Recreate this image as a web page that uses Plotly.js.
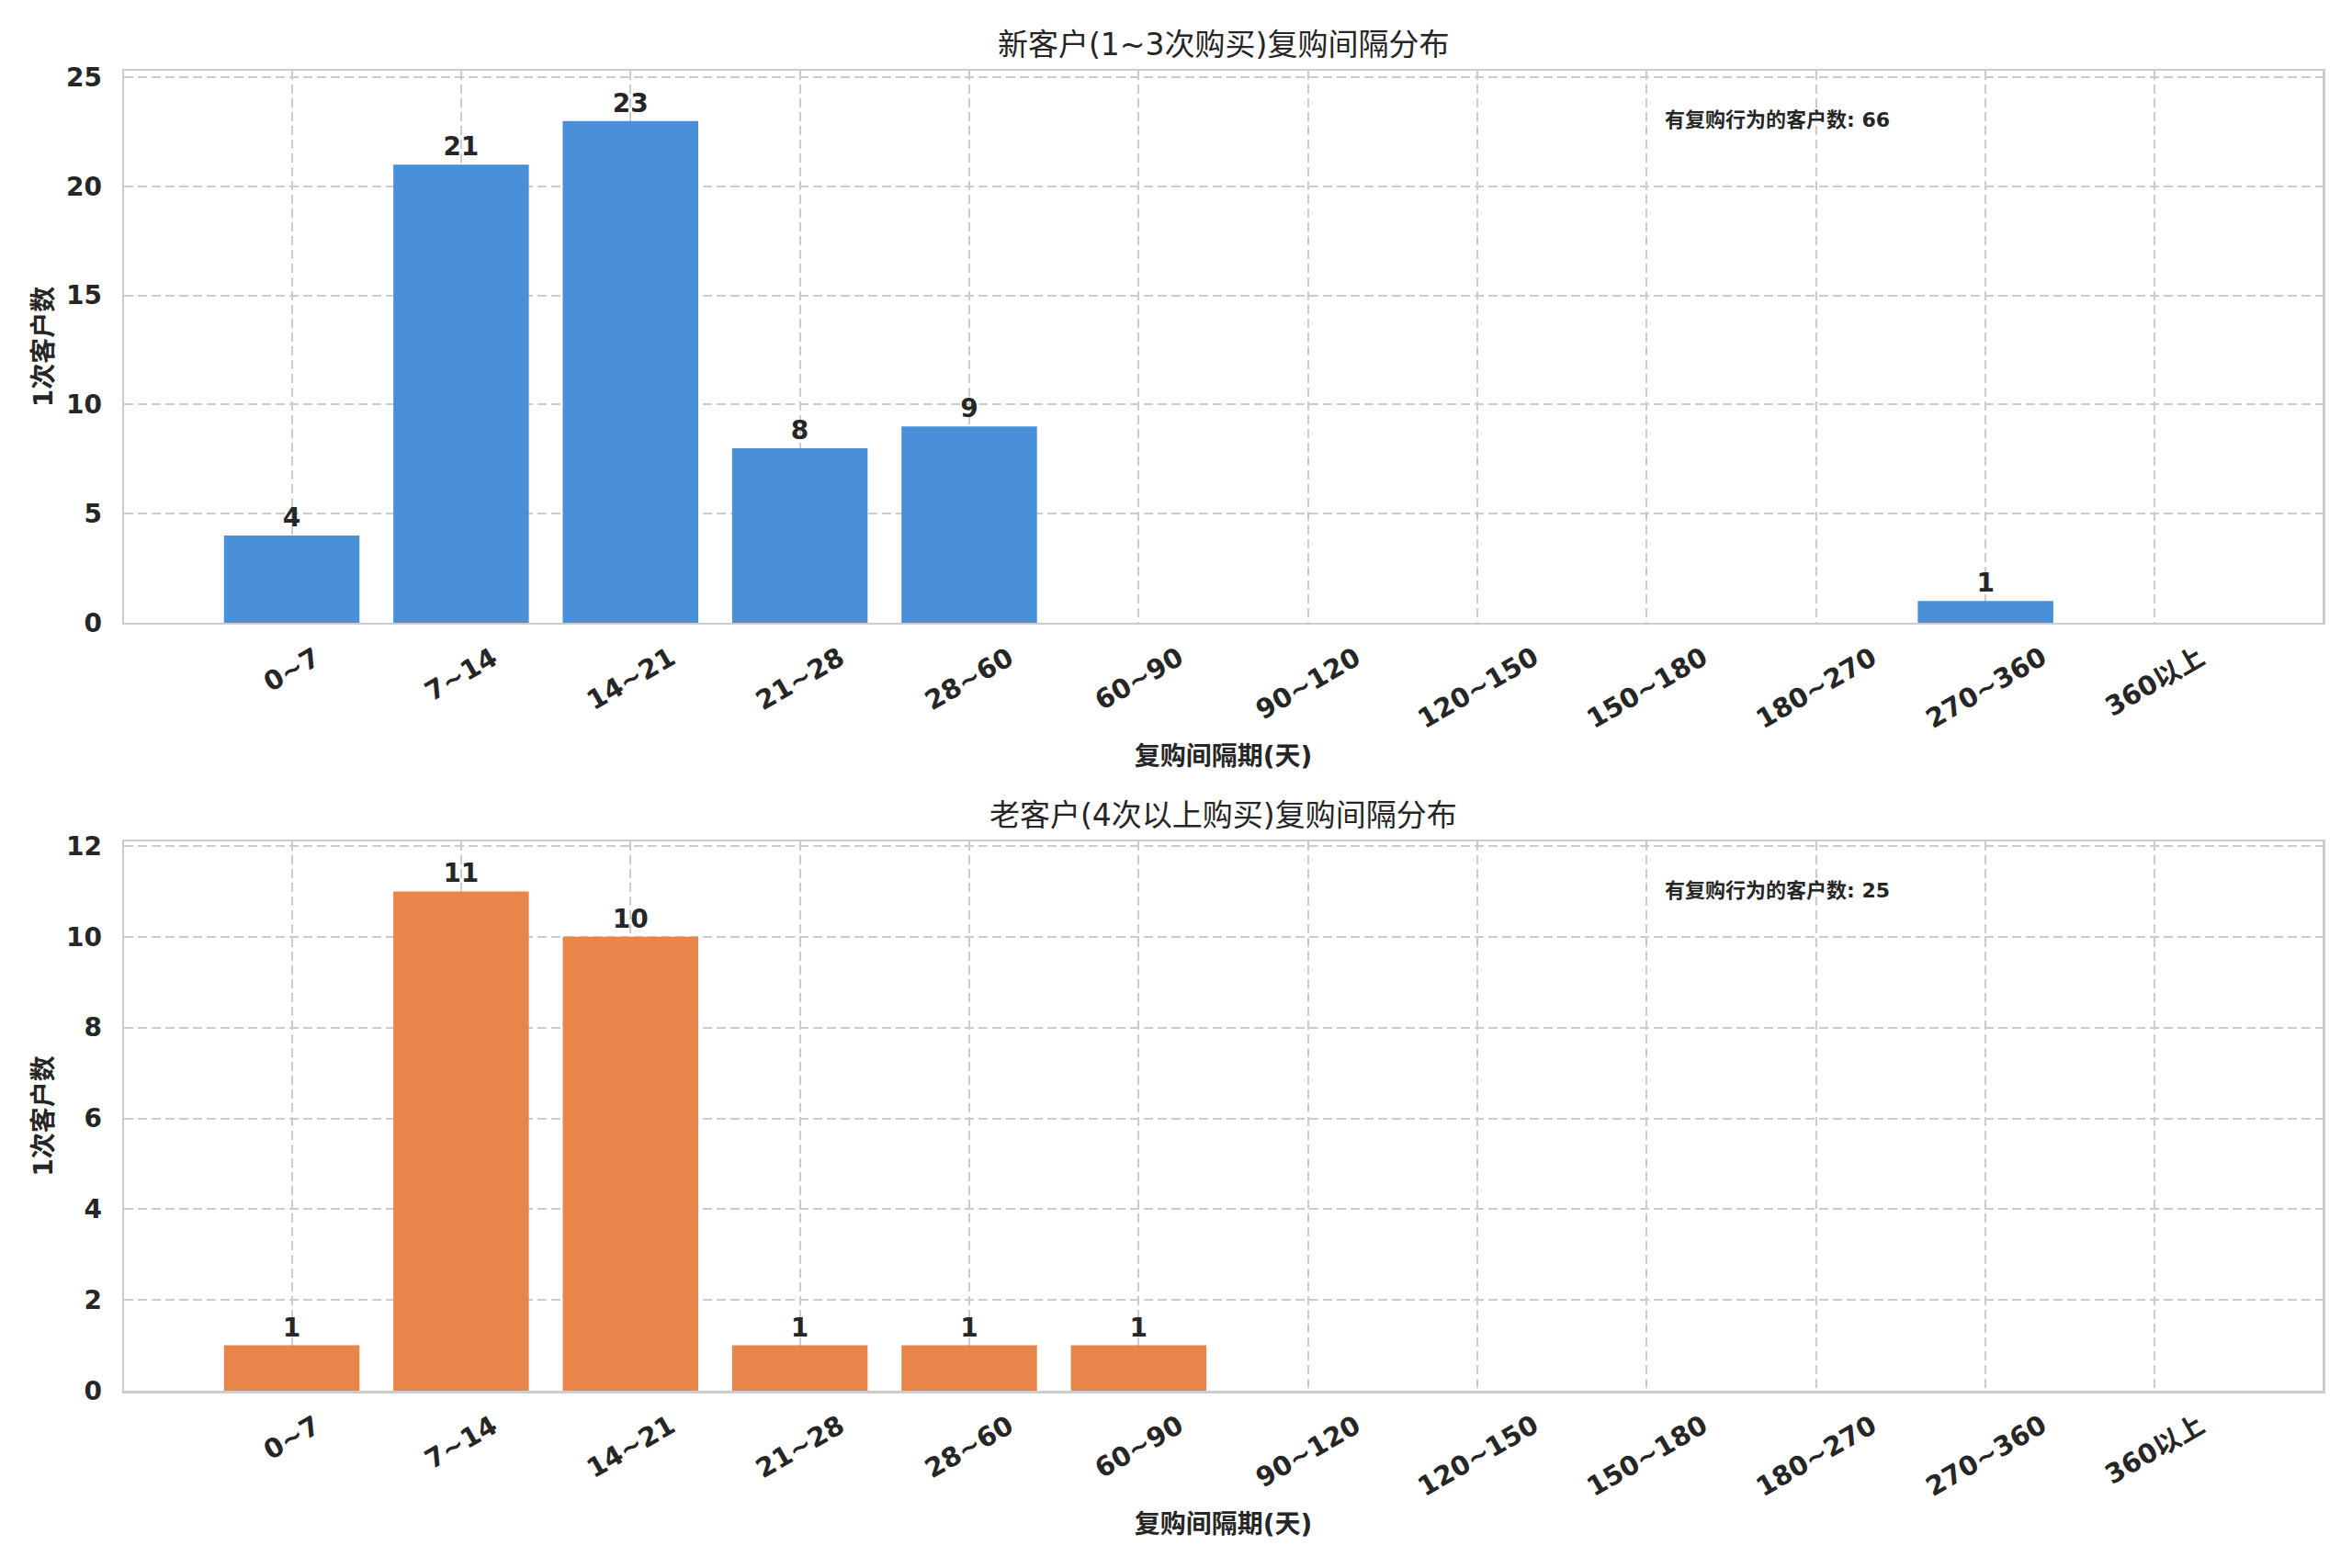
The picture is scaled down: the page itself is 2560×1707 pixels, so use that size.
<!DOCTYPE html>
<html>
<head>
<meta charset="utf-8">
<script src="https://cdn.plot.ly/plotly-3.0.1.min.js"></script>
<style>
  html, body { margin: 0; padding: 0; background: #ffffff; }
  #chart { width: 2560px; height: 1707px; }
</style>
</head>
<body>
<div id="chart"></div>
<script>
// data
var categories = ["0~7", "7~14", "14~21", "21~28", "28~60", "60~90", "90~120",
                  "120~150", "150~180", "180~270", "270~360", "360以上"];
var newCounts = [4, 21, 23, 8, 9, 0, 0, 0, 0, 0, 1, 0];
var oldCounts = [1, 11, 10, 1, 1, 1, 0, 0, 0, 0, 0, 0];
var titles = ["新客户(1~3次购买)复购间隔分布", "老客户(4次以上购买)复购间隔分布"];
var xLabel = "复购间隔期(天)";
var yLabel = "1次客户数";
var noteLabel = "有复购行为的客户数";

var FONT = "DejaVu Sans, Noto Sans CJK SC, sans-serif";
var INK = "#262626";
var GRID = "#cccccc";

function total(arr) {
  var s = 0;
  for (var i = 0; i < arr.length; i++) { s += arr[i]; }
  return s;
}

function labels(arr) {
  return arr.map(function (v) { return v > 0 ? String(v) : ""; });
}

function barTrace(vals, color, xa, ya) {
  return {
    type: "bar",
    x: categories,
    y: vals,
    xaxis: xa,
    yaxis: ya,
    marker: {color: color, line: {width: 0}},
    text: labels(vals),
    textposition: "outside",
    cliponaxis: false,
    textfont: {family: FONT, size: 28, color: INK, weight: "bold"},
    hoverinfo: "x+y",
    showlegend: false
  };
}

var data = [
  barTrace(newCounts, "#4a90d9", "x", "y"),
  barTrace(oldCounts, "#e8854a", "x2", "y2")
];

function xAxis(anchor) {
  return {
    anchor: anchor,
    domain: [0, 1],
    type: "category",
    range: [-0.99, 11.99],
    showticklabels: false,
    ticks: "",
    showgrid: true,
    gridcolor: GRID,
    gridwidth: 2,
    griddash: "10px,5px",
    showline: true,
    mirror: true,
    linecolor: GRID,
    linewidth: 2.5,
    zeroline: false,
    title: {
      text: xLabel,
      standoff: 134,
      font: {family: FONT, size: 28, color: INK, weight: "bold"}
    }
  };
}

function yAxis(anchor, domain, top, step) {
  return {
    anchor: anchor,
    domain: domain,
    range: [0, top],
    dtick: step,
    ticks: "",
    ticklabelstandoff: 16,
    tickfont: {family: FONT, size: 28, color: INK, weight: "bold"},
    showgrid: true,
    gridcolor: GRID,
    gridwidth: 2,
    griddash: "10px,5px",
    showline: true,
    mirror: true,
    linecolor: GRID,
    linewidth: 2.5,
    zeroline: false,
    title: {
      text: yLabel,
      standoff: 6,
      font: {family: FONT, size: 28, color: INK, weight: "bold"}
    }
  };
}

var annotations = [];

// rotated category labels, centred under each bar like the original
function tickLabels(xa, ya) {
  for (var i = 0; i < categories.length; i++) {
    annotations.push({
      x: categories[i], xref: xa,
      y: 0, yref: ya + " domain",
      yshift: -17,
      xanchor: "center", yanchor: "top",
      textangle: -30,
      showarrow: false,
      text: categories[i],
      font: {family: FONT, size: 29, color: INK, weight: "bold"}
    });
  }
}
tickLabels("x", "y");
tickLabels("x2", "y2");

var titleY = [1.0195, 0.4363];
for (var k = 0; k < titles.length; k++) {
  annotations.push({
    x: 0.5, xref: "paper",
    y: titleY[k], yref: "paper",
    xanchor: "center", yanchor: "middle",
    showarrow: false,
    text: titles[k],
    font: {family: FONT, size: 33, color: INK}
  });
}

annotations.push({
  x: 0.7, xref: "x domain",
  y: 0.935, yref: "y domain",
  xanchor: "left", yanchor: "top",
  showarrow: false,
  text: noteLabel + ": " + total(newCounts),
  font: {family: FONT, size: 22, color: INK, weight: "bold"}
});
annotations.push({
  x: 0.7, xref: "x2 domain",
  y: 0.935, yref: "y2 domain",
  xanchor: "left", yanchor: "top",
  showarrow: false,
  text: noteLabel + ": " + total(oldCounts),
  font: {family: FONT, size: 22, color: INK, weight: "bold"}
});

var layout = {
  width: 2560,
  height: 1707,
  margin: {l: 135, r: 32, t: 77, b: 193, pad: 0},
  paper_bgcolor: "#ffffff",
  plot_bgcolor: "#ffffff",
  font: {family: FONT, color: INK},
  bargap: 0.2,
  showlegend: false,
  xaxis: xAxis("y"),
  yaxis: yAxis("x", [0.5818, 1], 25.3, 5),
  xaxis2: xAxis("y2"),
  yaxis2: yAxis("x2", [0, 0.4161], 12.1, 2),
  annotations: annotations
};

Plotly.newPlot("chart", data, layout, {displayModeBar: false, staticPlot: true});
</script>
</body>
</html>
